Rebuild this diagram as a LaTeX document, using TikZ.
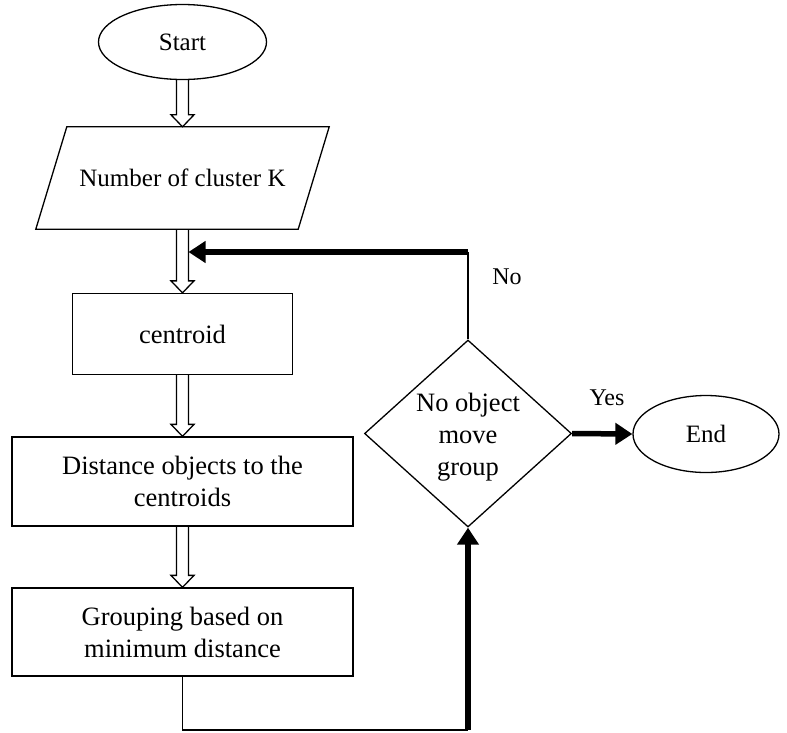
\documentclass[tikz,border=0pt]{standalone}
\usepackage{fontspec}
\setmainfont{Liberation Serif}
\usetikzlibrary{shapes.geometric,arrows.meta,calc}

\begin{document}
\begin{tikzpicture}[x=1pt,y=-1pt,
  boxfont/.style={font=\fontsize{26.5}{32}\selectfont},
  termfont/.style={font=\fontsize{25}{30}\selectfont},
  terminal/.style={ellipse,draw,line width=1.3pt,termfont,inner sep=0pt},
  procbox/.style={rectangle,draw,line width=1.3pt,boxfont,align=center,inner sep=0pt},
  decision/.style={diamond,draw,line width=1.3pt,inner sep=0pt},
  thinline/.style={line width=1.5pt},
  thickarrow/.style={line width=5.5pt,-{Triangle[length=17pt,width=21pt]}},
  hollowarrow/.style={line width=1.3pt,line join=miter,
    to path={let \p1=(\tikztostart), \p2=(\tikztotarget) in
      (\x1-6pt,\y1) -- (\x1-6pt,\y2+12pt) -- (\x1-11.5pt,\y2+12pt) -- (\x1,\y2)
      -- (\x1+11.5pt,\y2+12pt) -- (\x1+6pt,\y2+12pt) -- (\x1+6pt,\y1)}},
  edgelabel/.style={font=\fontsize{24}{28}\selectfont}
]
\useasboundingbox (0,0) rectangle (787,732);

% flow nodes
\node[terminal,minimum width=168,minimum height=75] (start) at (182.5,42) {Start};
\node[rectangle,minimum width=262,minimum height=102,termfont,inner sep=0pt] (input) at (182.5,178) {Number of cluster K};
\draw[line width=1.3pt]
  ($(input.south west)+(-15.5,0)$) -- ($(input.south east)+(-15.5,0)$)
  -- ($(input.north east)+(15.5,0)$) -- ($(input.north west)+(15.5,0)$) -- cycle;
\node[procbox,minimum width=220,minimum height=81] (centroid) at (182.5,334) {centroid};
\node[procbox,minimum width=341,minimum height=89] (dist) at (182.5,481.5) {Distance objects to the\\centroids};
\node[procbox,minimum width=341,minimum height=88] (group) at (182.5,632) {Grouping based on\\minimum distance};
\node[decision,minimum width=207,minimum height=187] (dec) at (468,433.5) {};
\node[boxfont,align=center,inner sep=0pt] (dectext) at ($(dec.center)+(0,4)$) {No object\\move\\group};
\node[terminal,minimum width=146,minimum height=77] (end) at (706,434) {End};

% main downward flow
\draw[hollowarrow] (start.south) to (input.north);
\draw[hollowarrow] (input.south) to (centroid.north);
\draw[hollowarrow] (centroid.south) to (dist.north);
\draw[hollowarrow] (dist.south) to (group.north);

% loop back and exit
\coordinate (join) at (188.5,252);
\coordinate (lowcorner) at (468,730);
\draw[thinline] (group.south) |- (lowcorner);
\draw[thickarrow] (lowcorner) -- (dec.south);
\draw[thinline] (dec.north) -- (dec.north |- join);
\draw[thickarrow] (dec.north |- join) -- (join);
\draw[thickarrow] (dec.east) -- (end.west);

% branch labels
\node[edgelabel] (nolabel) at (507,277) {No};
\node[edgelabel] (yeslabel) at (607,398) {Yes};
\end{tikzpicture}
\end{document}
